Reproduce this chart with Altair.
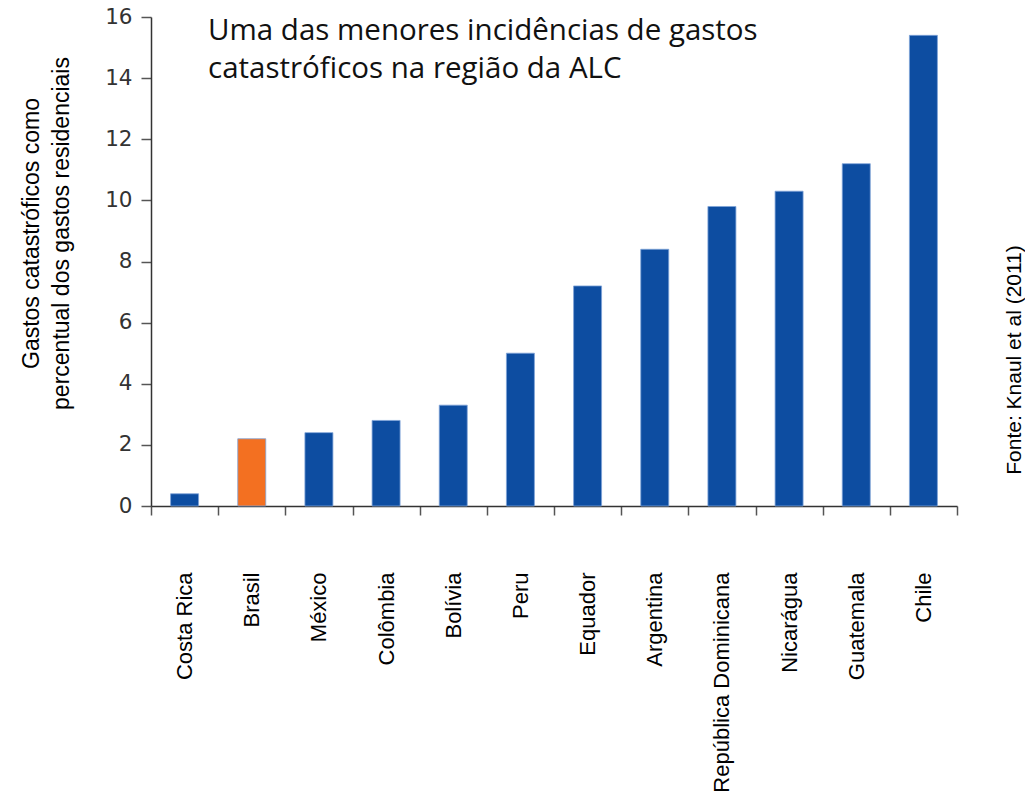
import altair as alt
import pandas as pd

countries = ["Costa Rica", "Brasil", "México", "Colômbia", "Bolívia", "Peru",
             "Equador", "Argentina", "República Dominicana", "Nicarágua",
             "Guatemala", "Chile"]
values = [0.4, 2.2, 2.4, 2.8, 3.3, 5.0, 7.2, 8.4, 9.8, 10.3, 11.2, 15.4]
highlight = ["Brasil"]
y_ticks = [0, 2, 4, 6, 8, 10, 12, 14, 16]
title_lines = ["Uma das menores incidências de gastos",
               "catastróficos na região da ALC"]
y_title = ["Gastos catastróficos como", "percentual dos gastos residenciais"]
source = "Fonte: Knaul et al (2011)"

df = pd.DataFrame({
    "country": countries,
    "value": values,
    "group": ["Brasil" if c in highlight else "Outros" for c in countries],
})

W, H = 806, 489

bars = alt.Chart(df).mark_bar(width=28, stroke="#7fa3d8", strokeWidth=0.8).encode(
    x=alt.X(
        "country:N",
        sort=countries,
        scale=alt.Scale(paddingInner=0, paddingOuter=0),
        axis=alt.Axis(
            title=None,
            labelAngle=-90,
            labelAlign="right",
            labelBaseline="middle",
            labelFont="Liberation Sans",
            labelFontSize=22,
            labelColor="#000000",
            labelPadding=57,
            labelLimit=500,
            tickBand="extent",
            tickSize=9,
            tickColor="#555555",
            tickWidth=1.5,
            domainColor="#333333",
            domainWidth=1.5,
        ),
    ),
    y=alt.Y(
        "value:Q",
        scale=alt.Scale(domain=[0, 16], nice=False),
        axis=alt.Axis(
            values=y_ticks,
            title=y_title,
            grid=False,
            tickSize=10,
            tickColor="#555555",
            tickWidth=1.5,
            domainColor="#333333",
            domainWidth=1.5,
            labelFont="DejaVu Sans",
            labelFontSize=21.5,
            labelColor="#333333",
            labelPadding=9,
            titleFont="Liberation Sans",
            titleFontSize=23,
            titleFontWeight="normal",
            titleColor="#000000",
            titleAngle=270,
            titleAlign="center",
            titleBaseline="middle",
            titleLineHeight=30,
            titleX=-120,
            titleY=216,
        ),
    ),
    color=alt.Color(
        "group:N",
        scale=alt.Scale(domain=["Brasil", "Outros"], range=["#F37021", "#0D4DA1"]),
        legend=None,
    ),
)

title_text = alt.Chart(pd.DataFrame({"t": ["\n".join(title_lines)]})).mark_text(
    align="left", baseline="alphabetic", font="Open Sans", fontSize=29.5,
    lineHeight=38, lineBreak="\n", color="#111111",
).encode(text="t:N", x=alt.value(57), y=alt.value(23))

source_text = alt.Chart(pd.DataFrame({"t": [source]})).mark_text(
    align="center", baseline="middle", font="Liberation Sans", fontSize=21,
    angle=270, color="#000000",
).encode(text="t:N", x=alt.value(864), y=alt.value(343))

chart = alt.layer(bars, title_text, source_text).properties(
    width=W,
    height=H,
    autosize="none",
    padding={"left": 143, "top": 9, "right": 68, "bottom": 286},
).configure_view(stroke=None)

chart.save("out.html", embed_options={"renderer": "svg", "actions": False})
